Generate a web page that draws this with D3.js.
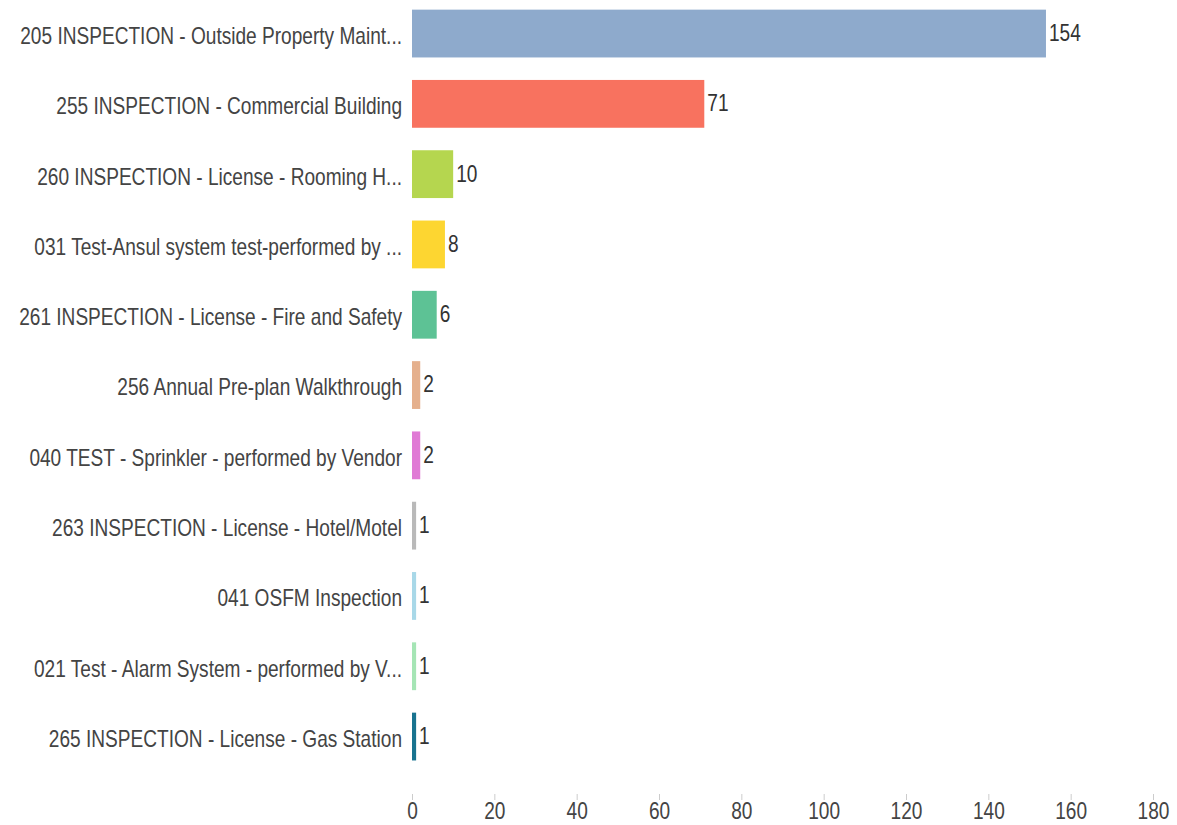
<!DOCTYPE html>
<html>
<head>
<meta charset="utf-8">
<script src="https://d3js.org/d3.v7.min.js"></script>
<style>
  body { margin: 0; background: #fff; }
  text { font-family: "Liberation Sans", Arial, sans-serif; }
</style>
</head>
<body>
<div id="chart"></div>
<script>
// categories and counts, top to bottom
const categories = [
  "205 INSPECTION - Outside Property Maint...",
  "255 INSPECTION - Commercial Building",
  "260 INSPECTION - License - Rooming H...",
  "031 Test-Ansul system test-performed by ...",
  "261 INSPECTION - License - Fire and Safety",
  "256 Annual Pre-plan Walkthrough",
  "040 TEST - Sprinkler - performed by Vendor",
  "263 INSPECTION - License - Hotel/Motel",
  "041 OSFM Inspection",
  "021 Test - Alarm System - performed by V...",
  "265 INSPECTION - License - Gas Station"
];
const counts = [154, 71, 10, 8, 6, 2, 2, 1, 1, 1, 1];
const colors = ["#8eaacc", "#f8725f", "#b5d64f", "#fdd631", "#5dc295", "#e5b08d",
                "#e07ad5", "#b9b9b9", "#a8d8e8", "#a5e5b5", "#18738f"];
const xTicks = [0, 20, 40, 60, 80, 100, 120, 140, 160, 180];

const width = 1177;
const height = 825;
const fontSize = "23px";
const squeeze = 0.83; // the original font is condensed

const svg = d3.select("#chart").append("svg")
    .attr("width", width)
    .attr("height", height);

const x = d3.scaleLinear().domain([0, 180]).range([412, 1153]);
const y = d3.scaleBand().domain(categories).range([-1.6, 771.7])
    .paddingInner(0.32).paddingOuter(0.16);

// bars
svg.append("g").selectAll("rect")
  .data(categories)
  .enter().append("rect")
    .attr("x", x(0))
    .attr("y", d => y(d))
    .attr("width", (d, i) => x(counts[i]) - x(0))
    .attr("height", y.bandwidth())
    .attr("fill", (d, i) => colors[i]);

// value labels
svg.append("g").selectAll("text")
  .data(categories)
  .enter().append("text")
    .attr("transform", (d, i) =>
      `translate(${x(counts[i]) + 3},${y(d) + y.bandwidth() / 2}) scale(${squeeze},1)`)
    .attr("dy", "0.32em")
    .attr("fill", "#333")
    .style("font-size", fontSize)
    .text((d, i) => counts[i]);

// category labels
const yAxis = svg.append("g")
    .attr("transform", "translate(412,0)")
    .call(d3.axisLeft(y).tickSize(0).tickPadding(0));
yAxis.select(".domain").remove();
yAxis.selectAll("text")
    .attr("x", 0)
    .attr("transform", `translate(-10,3) scale(${squeeze},1)`)
    .attr("fill", "#444")
    .style("font-size", fontSize);

// x axis
const xAxis = svg.append("g")
    .attr("transform", "translate(0,794)")
    .call(d3.axisBottom(x).tickValues(xTicks).tickSize(6).tickPadding(3));
xAxis.select(".domain").remove();
xAxis.selectAll("line").attr("stroke", "#ccc");
xAxis.selectAll("text")
    .attr("transform", `scale(${squeeze},1)`)
    .attr("fill", "#444")
    .style("font-size", fontSize);
</script>
</body>
</html>
